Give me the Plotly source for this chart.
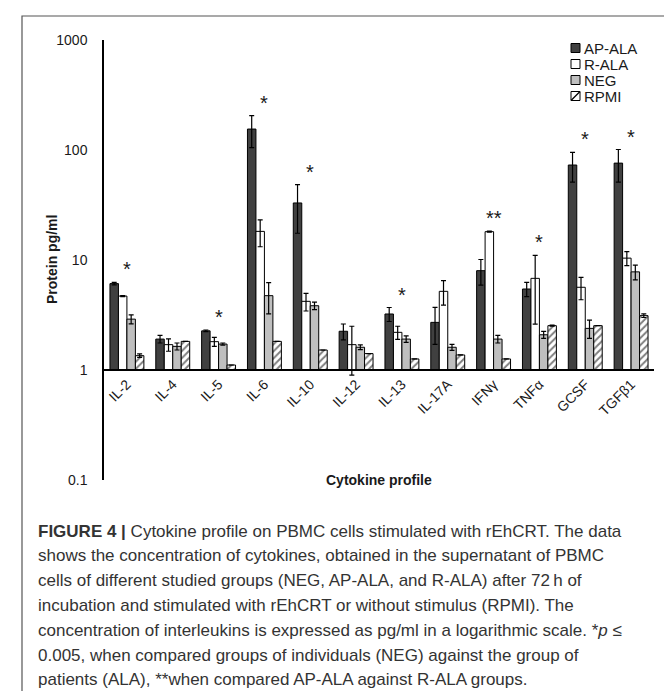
import numpy as np
import plotly.graph_objects as go

categories = ["IL-2", "IL-4", "IL-5", "IL-6", "IL-10", "IL-12", "IL-13",
              "IL-17A", "IFNγ", "TNFα", "GCSF", "TGFβ1"]

ap_ala = [6.1, 1.91, 2.27, 155, 33, 2.25, 3.23, 2.71, 8.0, 5.45, 73, 76]
ap_ala_err = [0.15, 0.15, 0.04, 50, 15.5, 0.37, 0.47, 1.0, 2.1, 0.8, 22, 25]
r_ala = [4.7, 1.70, 1.81, 18.2, 4.21, 1.70, 2.20, 5.19, 18.1, 6.81, 5.65, 10.4]
r_ala_err = [0.05, 0.22, 0.17, 5.0, 0.77, 0.8, 0.3, 1.3, 0.2, 4.2, 1.3, 1.5]
neg = [2.9, 1.64, 1.72, 4.74, 3.84, 1.61, 1.91, 1.61, 1.91, 2.09, 2.39, 7.8]
neg_err = [0.27, 0.12, 0.04, 1.5, 0.3, 0.08, 0.13, 0.1, 0.15, 0.15, 0.45, 1.2]
rpmi = [1.35, 1.82, 1.11, 1.82, 1.52, 1.41, 1.26, 1.37, 1.26, 2.53, 2.53, 3.12]
rpmi_err = [0.05, 0, 0, 0, 0, 0, 0, 0, 0, 0.03, 0, 0.12]

stars = ["*", "", "*", "*", "*", "", "*", "", "**", "*", "*", "*"]

y_tick_vals = [0.1, 1, 10, 100, 1000]
y_tick_text = ["0.1", "1", "10", "100", "1000"]
y_range_log = [-1, 3]
baseline = 1

series_names = ["AP-ALA", "R-ALA", "NEG", "RPMI"]
series_fill = ["#404040", "#ffffff", "#bfbfbf", "#ffffff"]
series_hatch = [None, None, None, "/"]

caption_lines = [
    "<b>FIGURE 4 |</b> Cytokine profile on PBMC cells stimulated with rEhCRT. The data",
    "shows the concentration of cytokines, obtained in the supernatant of PBMC",
    "cells of different studied groups (NEG, AP-ALA, and R-ALA) after 72\u2009h of",
    "incubation and stimulated with rEhCRT or without stimulus (RPMI). The",
    "concentration of interleukins is expressed as pg/ml in a logarithmic scale. *<i>p</i> \u2264",
    "0.005, when compared groups of individuals (NEG) against the group of",
    "patients (ALA), **when compared AP-ALA against R-ALA groups.",
]

# ---------------- layout geometry (pixels) ----------------
W, H = 672, 691
ML, MR, MT, MB = 96, 26, 32, 219
PW, PH = W - ML - MR, H - MT - MB


def px2x(px):
    return (px - ML) / PW


def py2y(py):
    return (H - MB - py) / PH


FONT = "Liberation Sans, Arial, sans-serif"
TXT = "#1a1a1a"

fig = go.Figure()

values = [ap_ala, r_ala, neg, rpmi]
errors = [ap_ala_err, r_ala_err, neg_err, rpmi_err]

for name, vals, errs, fill, hatch in zip(series_names, values, errors, series_fill, series_hatch):
    marker = dict(color=fill, line=dict(color="#000000", width=1))
    if hatch:
        marker["pattern"] = dict(shape=hatch, fgcolor="#000000", bgcolor="#ffffff",
                                 size=5, solidity=0.4)
    fig.add_trace(go.Bar(
        name=name,
        x=categories,
        y=[v - baseline for v in vals],
        base=baseline,
        marker=marker,
        showlegend=False,
        error_y=dict(type="data", array=errs, visible=True,
                     color="#000000", thickness=1.2, width=2.5),
    ))

# significance stars above the tallest error bar of each group
tops = [max(v + e for v, e in zip(vs, es))
        for vs, es in zip(zip(*values), zip(*errors))]
for cat, top, s in zip(categories, tops, stars):
    if s:
        fig.add_annotation(x=cat, y=np.log10(top), text=s, showarrow=False,
                           xref="x", yref="y", yanchor="bottom", yshift=0,
                           font=dict(family=FONT, size=20, color=TXT))

# legend (Excel style: small square right next to the label)
leg_x, leg_y0, leg_dy, sq = 563, 40, 16, 9
for i, (name, fill, hatch) in enumerate(zip(series_names, series_fill, series_hatch)):
    cy = leg_y0 + i * leg_dy
    fig.add_shape(type="rect", xref="paper", yref="paper",
                  x0=px2x(leg_x), x1=px2x(leg_x + sq),
                  y0=py2y(cy + sq / 2), y1=py2y(cy - sq / 2),
                  line=dict(color="#000000", width=1), fillcolor=fill)
    if hatch:
        fig.add_shape(type="line", xref="paper", yref="paper",
                      x0=px2x(leg_x), x1=px2x(leg_x + sq),
                      y0=py2y(cy + sq / 2), y1=py2y(cy - sq / 2),
                      line=dict(color="#000000", width=1.3))
    fig.add_annotation(x=px2x(leg_x + sq + 2), y=py2y(cy), xref="paper", yref="paper",
                       text=name, showarrow=False, xanchor="left", yanchor="middle",
                       font=dict(family=FONT, size=15, color=TXT))

# axis titles
fig.add_annotation(x=0.5, y=0, xref="paper", yref="paper", text="<b>Cytokine profile</b>",
                   showarrow=False, yanchor="middle",
                   font=dict(family=FONT, size=14, color=TXT))
fig.add_annotation(x=0, y=0.5, xref="paper", yref="paper", text="<b>Protein pg/ml</b>",
                   showarrow=False, textangle=-90, xanchor="center", xshift=-52,
                   font=dict(family=FONT, size=14, color=TXT))

# caption
cap_y0, cap_dy = 523, 24.8
for i, line in enumerate(caption_lines):
    fig.add_annotation(x=px2x(28), y=py2y(cap_y0 + i * cap_dy), xref="paper", yref="paper",
                       text=line, showarrow=False, xanchor="left", yanchor="middle",
                       font=dict(family=FONT, size=17, color="#333333"))

# outer frame
fig.add_shape(type="rect", xref="paper", yref="paper",
              x0=px2x(14), x1=px2x(662), y0=py2y(720), y1=py2y(8),
              line=dict(color="#555555", width=1.2), fillcolor="rgba(0,0,0,0)")

x_axis_pos = (np.log10(baseline) - y_range_log[0]) / (y_range_log[1] - y_range_log[0])

fig.update_layout(
    width=W, height=H,
    margin=dict(l=ML, r=MR, t=MT, b=MB, pad=0),
    paper_bgcolor="white", plot_bgcolor="white",
    barmode="group", bargap=0.26, bargroupgap=0,
    showlegend=False,
    xaxis=dict(type="category", anchor="free", position=x_axis_pos,
               showline=True, linecolor="#000000", linewidth=1.5,
               ticks="", tickangle=-45, showgrid=False, zeroline=False,
               tickfont=dict(family=FONT, size=14, color=TXT)),
    yaxis=dict(type="log", range=y_range_log, tickvals=y_tick_vals, ticktext=y_tick_text,
               showline=True, linecolor="#000000", linewidth=1.5, ticks="",
               showgrid=False, zeroline=False, ticklabelstandoff=12,
               tickfont=dict(family=FONT, size=14, color=TXT)),
)

fig.write_html("out.html")
